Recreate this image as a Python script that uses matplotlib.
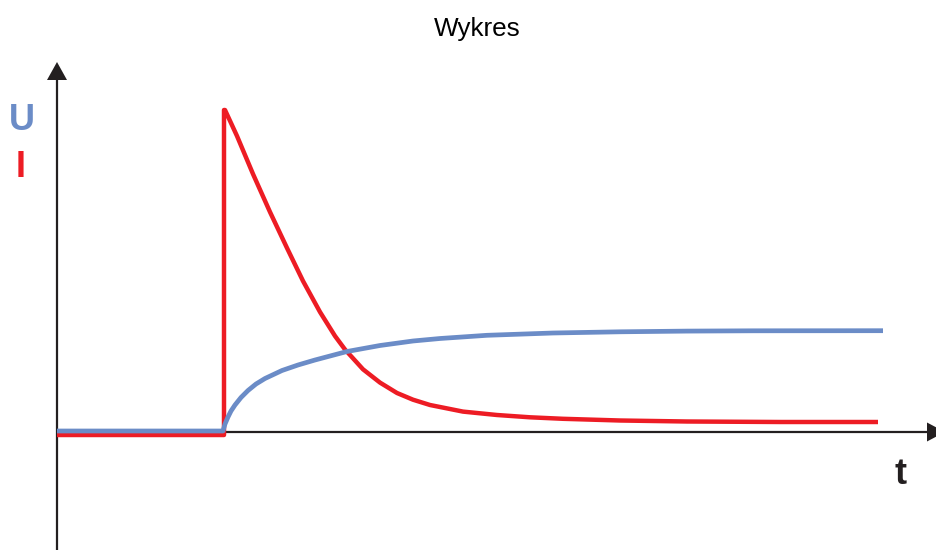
import matplotlib
matplotlib.use("Agg")
import matplotlib.pyplot as plt

# Data (t in arbitrary time units, values in arbitrary units)
red_t = [0, 167, 167, 168, 180, 196, 213, 230, 246, 263, 278, 288, 306, 323, 340,
         356, 373, 406, 440, 473, 506, 563, 630, 723, 821]
red_v = [-3, -3, 322, 322, 296, 258, 220, 184, 151, 120, 96, 82.5, 62.7, 49.4, 39,
         32.3, 27, 20.4, 17, 14.7, 13.2, 11.5, 10.5, 10, 10]

blue_t = [0, 166, 168, 171, 174, 178, 184, 191, 199, 208, 225, 241, 258, 290, 323,
          356, 383, 430, 496, 563, 630, 696, 826]
blue_v = [1, 1, 8, 15, 21, 27, 34.5, 41.5, 48, 53.5, 61.5, 67, 72, 80.5, 86.5,
          91, 93.5, 96.7, 99, 100.2, 100.9, 101.2, 101.3]

title = "Wykres"
label_u = "U"
label_i = "I"
label_t = "t"

RED = "#ED1C24"
BLUE = "#6B8CC7"
AXC = "#231F20"

fig = plt.figure(figsize=(9.37, 5.5), dpi=100)
ax = fig.add_axes([0, 0, 1, 1])
ax.set_xlim(-57, 880)
ax.set_ylim(-118, 432)
ax.axis("off")

# axes with arrowheads
ax.plot([0, 0], [-118, 352], color=AXC, lw=1.6, solid_capstyle="butt", zorder=1)
ax.fill([-10, 10, 0], [352, 352, 370], color=AXC, lw=0, zorder=1)
ax.plot([0, 870], [0, 0], color=AXC, lw=1.6, solid_capstyle="butt", zorder=1)
ax.fill([870, 870, 888], [9.5, -9.5, 0], color=AXC, lw=0, zorder=1)

ax.plot(red_t, red_v, color=RED, lw=3.2, solid_capstyle="butt",
        solid_joinstyle="round", zorder=2)
ax.plot(blue_t, blue_v, color=BLUE, lw=3.4, solid_capstyle="butt",
        solid_joinstyle="round", zorder=3)

ax.text(-35.5, 312, label_u, color=BLUE, fontsize=26, fontweight="bold",
        family="Liberation Sans", ha="center", va="center")
ax.text(-36, 264.5, label_i, color=RED, fontsize=26, fontweight="bold",
        family="Liberation Sans", ha="center", va="center")
ax.text(843.5, -42, label_t, color=AXC, fontsize=26, fontweight="bold",
        family="Liberation Sans", ha="center", va="center")
fig.text(477.5 / 937, 1 - 29 / 550, title, fontsize=18.8, family="Liberation Sans",
         ha="center", va="center", color="black")

fig.savefig("out.png", dpi=100)
